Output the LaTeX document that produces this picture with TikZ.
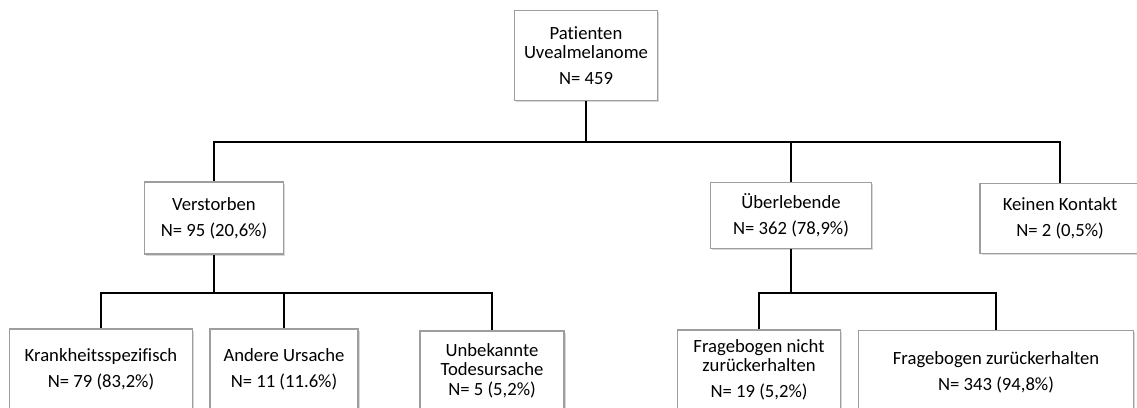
\documentclass[tikz,border=0pt]{standalone}
\usepackage{fontspec}
\setmainfont{Carlito}[Ligatures=NoCommon]
\usetikzlibrary{positioning,shadows}

\begin{document}
\begin{tikzpicture}[x=0.75pt,y=-0.75pt]

    % picture frame (pixel grid of the original)
    \useasboundingbox (0,0) rectangle (1137,407);
    \clip (0,0) rectangle (1137,407);

    % boxes: centre, width and height in pixels
    \begin{scope}[every node/.style={draw=black!38, line width=0.8pt, fill=white,
                  align=center, inner sep=0pt,
                  font=\fontsize{14}{14.3}\selectfont,
                  drop shadow={shadow xshift=1.2pt, shadow yshift=-1.2pt, fill=black!30, opacity=.5}}]
    \node[minimum width=107pt, minimum height=67pt] (pat) at (586,55.5) {Patienten\\Uvealmelanome\\[5pt]N= 459};

    \node[minimum width=104pt, minimum height=54pt] (vers) at (214,218) {Verstorben\\[5pt]N= 95 (20,6\%)};
    \node[minimum width=121pt, minimum height=49pt] (ueb) at (791,215.5) {Überlebende\\[5pt]N= 362 (78,9\%)};
    \node[minimum width=120pt, minimum height=53pt] (kein) at (1060,218.5) {Keinen Kontakt\\[5pt]N= 2 (0,5\%)};

    \node[minimum width=137pt, minimum height=60pt] (krank) at (101,369) {Krankheitsspezifisch\\[5pt]N= 79 (83,2\%)};
    \node[minimum width=111pt, minimum height=60pt] (andere) at (284,369) {Andere Ursache\\[5pt]N= 11 (11.6\%)};
    \node[minimum width=108pt, minimum height=60pt] (unbek) at (492,371) {Unbekannte\\Todesursache\\[1pt]N= 5 (5,2\%)};

    \node[minimum width=122pt, minimum height=60pt] (fnicht) at (759,370) {Fragebogen nicht\\zurückerhalten\\[5pt]N= 19 (5,2\%)};
    \node[minimum width=206pt, minimum height=62pt] (fzur) at (996,372) {Fragebogen zurückerhalten\\[5pt]N= 343 (94,8\%)};
    \end{scope}

    % connectors
    \begin{scope}[every path/.style={draw=black, line width=2.1pt}]
    \coordinate (bus1) at (586,142);
    \coordinate (bus2) at (214,293);
    \coordinate (bus3) at (791,293);

    \draw (pat.south) -- (bus1) -| (vers.north);
    \draw (bus1) -| (ueb.north);
    \draw (bus1) -| (kein.north);

    \draw (vers.south) -- (bus2) -| (krank.north);
    \draw (bus2) -| (andere.north);
    \draw (bus2) -| (unbek.north);

    \draw (ueb.south) -- (bus3) -| (fnicht.north);
    \draw (bus3) -| (fzur.north);
    \end{scope}

\end{tikzpicture}
\end{document}
